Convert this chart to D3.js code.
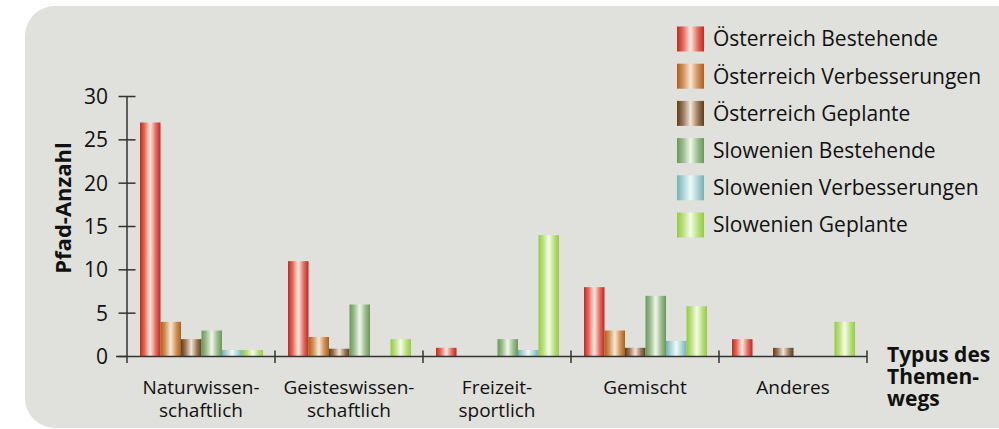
<!DOCTYPE html>
<html>
<head>
<meta charset="utf-8">
<script src="https://d3js.org/d3.v7.min.js"></script>
<style>
  body { margin: 0; background: #fff; }
  svg { display: block; font-family: "Open Sans", sans-serif; }
</style>
</head>
<body>
<svg></svg>
<script>
// categories (x axis), with the line break of the original labels
const categories = ["Naturwissen-\nschaftlich", "Geisteswissen-\nschaftlich", "Freizeit-\nsportlich", "Gemischt", "Anderes"];
const seriesNames = ["Österreich Bestehende", "Österreich Verbesserungen", "Österreich Geplante",
                     "Slowenien Bestehende", "Slowenien Verbesserungen", "Slowenien Geplante"];

// values, one array per series
const oesterreichBestehende     = [27, 11, 1, 8, 2];
const oesterreichVerbesserungen = [4, 2.25, 0, 3, 0];
const oesterreichGeplante       = [2, 0.9, 0, 1, 1];
const slowenienBestehende       = [3, 6, 2, 7, 0];
const slowenienVerbesserungen   = [0.75, 0, 0.75, 1.8, 0];
const slowenienGeplante         = [0.75, 2, 14, 5.8, 4];

const yTicks = [0, 5, 10, 15, 20, 25, 30];

// colours per series: dark edge, mid tone, highlight
const colors = [
  ["#c4271f", "#e0685a", "#fde9e1"],
  ["#ad5f1c", "#cf8f55", "#f8e8d8"],
  ["#5e3d1c", "#9a7756", "#f1e6dc"],
  ["#6a965a", "#99bb8b", "#f0f6ec"],
  ["#72b2b4", "#a9d2d3", "#f0f9f9"],
  ["#94cb3e", "#b8df7c", "#f6fbe9"]
];

const seriesValues = [oesterreichBestehende, oesterreichVerbesserungen, oesterreichGeplante,
                      slowenienBestehende, slowenienVerbesserungen, slowenienGeplante];

const width = 999, height = 429;
const svg = d3.select('svg').attr('width', width).attr('height', height);

// grey panel with rounded left corners
svg.append('rect')
  .attr('x', 25).attr('y', 6)
  .attr('width', 1010).attr('height', 422)
  .attr('rx', 30).attr('ry', 30)
  .attr('fill', '#e0e0dc');

// gradients, dark edge -> highlight -> mid
const defs = svg.append('defs');
colors.forEach((c, i) => {
  const g = defs.append('linearGradient').attr('id', 'grad' + i)
    .attr('x1', '0%').attr('x2', '100%').attr('y1', '0%').attr('y2', '0%');
  g.append('stop').attr('offset', '0%').attr('stop-color', c[0]);
  g.append('stop').attr('offset', '22%').attr('stop-color', c[1]);
  g.append('stop').attr('offset', '50%').attr('stop-color', c[2]);
  g.append('stop').attr('offset', '78%').attr('stop-color', c[1]);
  g.append('stop').attr('offset', '100%').attr('stop-color', c[0]);
});

const x0 = d3.scaleBand().domain(d3.range(categories.length)).range([127, 867]);
const x1 = d3.scaleBand().domain(d3.range(seriesNames.length))
  .range([13, x0.bandwidth() - 12]);
const y = d3.scaleLinear().domain([0, 30]).range([356.5, 96.5]);

// bars
const groups = svg.append('g').selectAll('g')
  .data(categories)
  .join('g')
  .attr('transform', (d, i) => `translate(${x0(i)},0)`);

groups.selectAll('rect')
  .data((d, i) => seriesValues.map((s, k) => ({ k: k, v: s[i] })))
  .join('rect')
  .attr('x', d => x1(d.k))
  .attr('width', x1.bandwidth())
  .attr('y', d => y(d.v))
  .attr('height', d => y(0) - y(d.v))
  .attr('fill', d => `url(#grad${d.k})`);

const axisColor = '#333';

// y axis
const yAxis = svg.append('g');
yAxis.append('line')
  .attr('x1', x0(0)).attr('x2', x0(0))
  .attr('y1', y(30)).attr('y2', y(0) + 6.5)
  .attr('stroke', axisColor).attr('stroke-width', 1.5);
yAxis.selectAll('line.tick')
  .data(yTicks)
  .join('line')
  .attr('class', 'tick')
  .attr('x1', x0(0) - 8.5).attr('x2', d => d === 0 ? x0(0) : x0(0) + 8.5)
  .attr('y1', d => y(d)).attr('y2', d => y(d))
  .attr('stroke', axisColor).attr('stroke-width', 1.5);
yAxis.selectAll('text')
  .data(yTicks)
  .join('text')
  .attr('x', x0(0) - 19).attr('y', d => y(d))
  .attr('dy', '0.35em')
  .attr('text-anchor', 'end')
  .attr('font-size', 21)
  .attr('fill', '#111')
  .text(d => d);

// x axis
const xAxis = svg.append('g');
xAxis.append('line')
  .attr('x1', x0(0) - 11).attr('x2', 867)
  .attr('y1', y(0)).attr('y2', y(0))
  .attr('stroke', axisColor).attr('stroke-width', 1.5);
xAxis.selectAll('line.tick')
  .data(d3.range(1, categories.length + 1))
  .join('line')
  .attr('class', 'tick')
  .attr('x1', i => x0.step() * i + x0(0)).attr('x2', i => x0.step() * i + x0(0))
  .attr('y1', y(0) - 6).attr('y2', y(0) + 6.5)
  .attr('stroke', axisColor).attr('stroke-width', 1.5);

const catLabel = xAxis.selectAll('text')
  .data(categories)
  .join('text')
  .attr('text-anchor', 'middle')
  .attr('font-size', 19)
  .attr('fill', '#111');
catLabel.selectAll('tspan')
  .data((d, i) => d.split('\n').map(t => ({ t: t, i: i })))
  .join('tspan')
  .attr('x', d => x0(d.i) + x0.bandwidth() / 2)
  .attr('y', (d, j) => 394 + j * 22.5)
  .text(d => d.t);

// axis titles
svg.append('text')
  .attr('transform', 'translate(71,208) rotate(-90)')
  .attr('text-anchor', 'middle')
  .attr('font-size', 22).attr('font-weight', 'bold')
  .attr('fill', '#111')
  .text('Pfad-Anzahl');

svg.append('text')
  .attr('font-size', 21).attr('font-weight', 'bold')
  .attr('fill', '#111')
  .selectAll('tspan')
  .data(['Typus des', 'Themen-', 'wegs'])
  .join('tspan')
  .attr('x', 887)
  .attr('y', (d, i) => 362 + i * 22)
  .text(d => d);

// legend
const legend = svg.append('g').selectAll('g')
  .data(seriesNames)
  .join('g')
  .attr('transform', (d, i) => `translate(677,${39 + i * 37.2})`);
legend.append('rect')
  .attr('x', 0).attr('y', -12.5)
  .attr('width', 27).attr('height', 25)
  .attr('fill', (d, i) => `url(#grad${i})`);
legend.append('text')
  .attr('x', 36).attr('dy', '0.35em')
  .attr('font-size', 21)
  .attr('fill', '#111')
  .text(d => d);
</script>
</body>
</html>
